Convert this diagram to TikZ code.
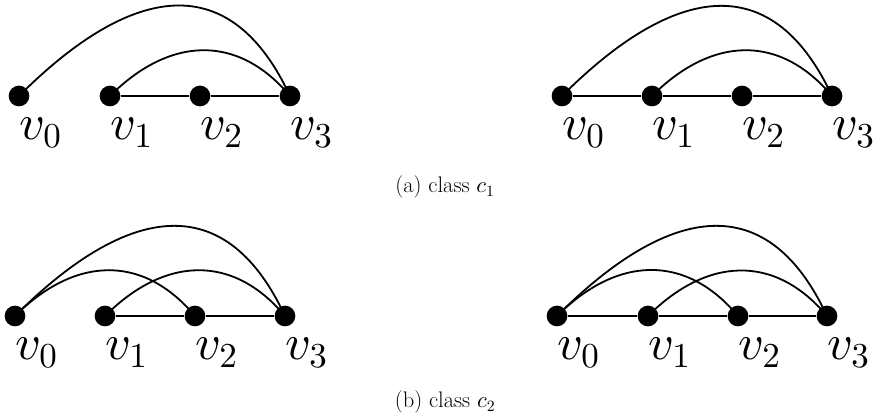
\documentclass[tikz,border=0pt]{standalone}
\DeclareFontShape{OML}{cmm}{m}{it}{<-6>cmmi5<6-8>cmmi7<8->cmmi10}{}
\DeclareFontShape{OT1}{cmr}{m}{n}{<-6>cmr5<6-8>cmr7<8->cmr10}{}
\DeclareFontShape{OMS}{cmsy}{m}{n}{<-6>cmsy5<6-8>cmsy7<8->cmsy10}{}
\DeclareFontShape{OMX}{cmex}{m}{n}{<->cmex10}{}
\begin{document}
\begin{tikzpicture}[x=1pt,y=1pt,
  vtx/.style={circle,fill=black,inner sep=0pt,minimum size=20.7pt},
  lab/.style={anchor=base west,inner sep=0pt,font=\fontsize{50}{60}\selectfont},
  edgeline/.style={line width=1.8pt},
  shortarc/.style={out=45,in=130,looseness=1.18},
  longarc/.style={out=45,in=115,looseness=1.41},
  captext/.style={anchor=base,inner sep=0pt,font=\fontsize{22.5}{27}\selectfont}]
\useasboundingbox (0,0) rectangle (879,414);

% (a) left
\node[vtx] (a0) at (19,318) {};
\node[vtx] (a1) at (110,318) {};
\node[vtx] (a2) at (200,318) {};
\node[vtx] (a3) at (290,318) {};
\draw[edgeline] (a1) -- (a2);
\draw[edgeline] (a2) -- (a3);
\draw[edgeline] (a0.center) to[longarc] (a3.center);
\draw[edgeline] (a1.center) to[shortarc] (a3.center);
\node[lab] (la0) at ([yshift=-44pt]a0.center) {$v_0$};
\node[lab] (la1) at ([yshift=-44pt]a1.center) {$v_1$};
\node[lab] (la2) at ([yshift=-44pt]a2.center) {$v_2$};
\node[lab] (la3) at ([yshift=-44pt]a3.center) {$v_3$};

% (a) right
\node[vtx] (b0) at (562,318) {};
\node[vtx] (b1) at (652,318) {};
\node[vtx] (b2) at (742,318) {};
\node[vtx] (b3) at (832,318) {};
\draw[edgeline] (b0) -- (b1);
\draw[edgeline] (b1) -- (b2);
\draw[edgeline] (b2) -- (b3);
\draw[edgeline] (b0.center) to[longarc] (b3.center);
\draw[edgeline] (b1.center) to[shortarc] (b3.center);
\node[lab] (lb0) at ([yshift=-44pt]b0.center) {$v_0$};
\node[lab] (lb1) at ([yshift=-44pt]b1.center) {$v_1$};
\node[lab] (lb2) at ([yshift=-44pt]b2.center) {$v_2$};
\node[lab] (lb3) at ([yshift=-44pt]b3.center) {$v_3$};

\node[captext] (capa) at (445,221) {(a) class $c_1$};

% (b) left
\node[vtx] (c0) at (15,98) {};
\node[vtx] (c1) at (105,98) {};
\node[vtx] (c2) at (195,98) {};
\node[vtx] (c3) at (285,98) {};
\draw[edgeline] (c1) -- (c2);
\draw[edgeline] (c2) -- (c3);
\draw[edgeline] (c0.center) to[longarc] (c3.center);
\draw[edgeline] (c0.center) to[shortarc] (c2.center);
\draw[edgeline] (c1.center) to[shortarc] (c3.center);
\node[lab] (lc0) at ([yshift=-44pt]c0.center) {$v_0$};
\node[lab] (lc1) at ([yshift=-44pt]c1.center) {$v_1$};
\node[lab] (lc2) at ([yshift=-44pt]c2.center) {$v_2$};
\node[lab] (lc3) at ([yshift=-44pt]c3.center) {$v_3$};

% (b) right
\node[vtx] (d0) at (557,98) {};
\node[vtx] (d1) at (648,98) {};
\node[vtx] (d2) at (738,98) {};
\node[vtx] (d3) at (827,98) {};
\draw[edgeline] (d0) -- (d1);
\draw[edgeline] (d1) -- (d2);
\draw[edgeline] (d2) -- (d3);
\draw[edgeline] (d0.center) to[longarc] (d3.center);
\draw[edgeline] (d0.center) to[shortarc] (d2.center);
\draw[edgeline] (d1.center) to[shortarc] (d3.center);
\node[lab] (ld0) at ([yshift=-44pt]d0.center) {$v_0$};
\node[lab] (ld1) at ([yshift=-44pt]d1.center) {$v_1$};
\node[lab] (ld2) at ([yshift=-44pt]d2.center) {$v_2$};
\node[lab] (ld3) at ([yshift=-44pt]d3.center) {$v_3$};

\node[captext] (capb) at (445,6) {(b) class $c_2$};
\end{tikzpicture}
\end{document}
